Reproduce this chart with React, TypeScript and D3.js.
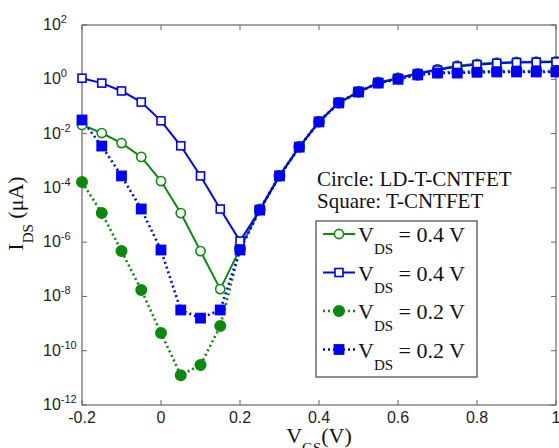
import React from "react";
import * as d3 from "d3";

// gate voltage sweep (V)
const vgs = [
  -0.2, -0.15, -0.1, -0.05, 0, 0.05, 0.1, 0.15, 0.2, 0.25, 0.3, 0.35, 0.4,
  0.45, 0.5, 0.55, 0.6, 0.65, 0.7, 0.75, 0.8, 0.85, 0.9, 0.95, 1.0,
];

// log10 of I_DS (uA)
const ldHigh = [
  -1.68, -1.98, -2.35, -2.86, -3.75, -4.93, -6.33, -7.73, -6.25, -4.8, -3.55,
  -2.49, -1.56, -0.86, -0.46, -0.12, 0.05, 0.22, 0.37, 0.5, 0.57, 0.61, 0.64,
  0.65, 0.66,
];
const tHigh = [
  0.04, -0.14, -0.43, -0.84, -1.53, -2.45, -3.56, -4.78, -5.96, -4.82, -3.56,
  -2.5, -1.57, -0.87, -0.47, -0.14, 0.03, 0.21, 0.34, 0.47, 0.54, 0.59, 0.62,
  0.63, 0.64,
];
const ldLow = [
  -3.78, -4.93, -6.33, -7.76, -9.35, -10.9, -10.53, -9.09, -6.25, -4.8, -3.55,
  -2.49, -1.56, -0.86, -0.46, -0.12, 0.03, 0.17, 0.25, 0.27, 0.29, 0.3, 0.3,
  0.3, 0.3,
];
const tLow = [
  -1.5, -2.46, -3.56, -4.78, -6.29, -8.5, -8.8, -8.5, -6.29, -4.82, -3.56, -2.5,
  -1.57, -0.87, -0.47, -0.14, 0.0, 0.16, 0.23, 0.23, 0.26, 0.27, 0.27, 0.27,
  0.27,
];

const xTicks = [-0.2, 0, 0.2, 0.4, 0.6, 0.8, 1];
const yExps = [2, 0, -2, -4, -6, -8, -10, -12];
const legendLabels = ["0.4", "0.4", "0.2", "0.2"];

const GREEN = "#0a8a0a";
const BLUE = "#0000ff";

const series = [
  { vals: ldHigh, color: GREEN, shape: "circle", filled: false, dotted: false },
  { vals: ldLow, color: GREEN, shape: "circle", filled: true, dotted: true },
  { vals: tHigh, color: BLUE, shape: "square", filled: false, dotted: false },
  { vals: tLow, color: BLUE, shape: "square", filled: true, dotted: true },
];
const legendOrder = [0, 2, 1, 3];

const serif = "'Liberation Serif', 'Times New Roman', serif";
const sans = "'Liberation Sans', Arial, sans-serif";

function Marker({ x, y, s }: { x: number; y: number; s: any }) {
  const fill = s.filled ? s.color : "white";
  if (s.shape === "circle") {
    const r = s.filled ? 5.2 : 4.6;
    return <circle cx={x} cy={y} r={r} fill={fill} stroke={s.color} strokeWidth={1.6} />;
  }
  const h = s.filled ? 4.6 : 4;
  return (
    <rect x={x - h} y={y - h} width={2 * h} height={2 * h} fill={fill} stroke={s.color} strokeWidth={1.6} />
  );
}

export default function App() {
  const x = d3.scaleLinear().domain([-0.2, 1]).range([82, 556]);
  const y = d3.scaleLog().domain([1e-12, 1e2]).range([405, 25]);
  const axisColor = "#666";

  const line = d3
    .line<number>()
    .x((_, i) => x(vgs[i]))
    .y((d) => y(Math.pow(10, d)));

  return (
    <svg width={559} height={448} style={{ position: "absolute", left: 0, top: 0, background: "white" }}>
      <rect x={0} y={0} width={559} height={448} fill="white" />

      {/* axes box and ticks */}
      <rect x={82} y={25} width={474} height={380} fill="none" stroke={axisColor} strokeWidth={1.2} />
      {xTicks.map((t) => (
        <g key={"xt" + t}>
          <line x1={x(t)} x2={x(t)} y1={405} y2={400} stroke={axisColor} />
          <line x1={x(t)} x2={x(t)} y1={25} y2={30} stroke={axisColor} />
          <text x={x(t)} y={423} textAnchor="middle" fontFamily={sans} fontSize={16} fill="#222">
            {t}
          </text>
        </g>
      ))}
      {yExps.map((e) => (
        <g key={"yt" + e}>
          <line x1={82} x2={87} y1={y(Math.pow(10, e))} y2={y(Math.pow(10, e))} stroke={axisColor} />
          <line x1={556} x2={551} y1={y(Math.pow(10, e))} y2={y(Math.pow(10, e))} stroke={axisColor} />
          <text x={43} y={y(Math.pow(10, e)) + 5} fontFamily={sans} fontSize={16} fill="#222">
            10
            <tspan dy={-7} fontSize={11}>
              {e}
            </tspan>
          </text>
        </g>
      ))}

      {/* series lines */}
      {series.map((s, k) => (
        <path
          key={"l" + k}
          d={line(s.vals) || ""}
          fill="none"
          stroke={s.color}
          strokeWidth={s.dotted ? 2.6 : 2}
          strokeDasharray={s.dotted ? "2,3" : undefined}
        />
      ))}
      {series.map((s, k) => (
        <g key={"m" + k}>
          {s.vals.map((v, i) => (
            <Marker key={i} x={x(vgs[i])} y={y(Math.pow(10, v))} s={s} />
          ))}
        </g>
      ))}

      {/* annotation */}
      <text x={317} y={186} fontFamily={serif} fontSize={21} fill="#111">
        Circle: LD-T-CNTFET
      </text>
      <text x={317} y={208} fontFamily={serif} fontSize={21} fill="#111">
        Square: T-CNTFET
      </text>

      {/* legend */}
      <rect x={316} y={221} width={161} height={156} fill="white" stroke="#444" strokeWidth={1.2} />
      {legendOrder.map((si, j) => {
        const s = series[si];
        const ly = 242 + j * 38.5;
        const my = ly - 8;
        return (
          <g key={"lg" + j}>
            <line
              x1={323}
              x2={355}
              y1={my}
              y2={my}
              stroke={s.color}
              strokeWidth={s.dotted ? 2.4 : 2}
              strokeDasharray={s.dotted ? "2,3" : undefined}
            />
            <Marker x={339} y={my} s={s} />
            <text x={358} y={ly} fontFamily={serif} fontSize={22} fill="#111">
              V
              <tspan dy={12} fontSize={15}>
                DS
              </tspan>
              <tspan dy={-12}>{` = ${legendLabels[j]} V`}</tspan>
            </text>
          </g>
        );
      })}

      {/* axis labels */}
      <text
        transform="translate(23,213.5) rotate(-90)"
        textAnchor="middle"
        fontFamily={serif}
        fontSize={22}
        fill="#111"
      >
        I
        <tspan dy={10} fontSize={15}>
          DS
        </tspan>
        <tspan dy={-10}> (μA)</tspan>
      </text>
      <text x={319} y={443} textAnchor="middle" fontFamily={serif} fontSize={22} fill="#111">
        V
        <tspan dy={10} fontSize={15}>
          GS
        </tspan>
        <tspan dy={-10}>(V)</tspan>
      </text>
    </svg>
  );
}
